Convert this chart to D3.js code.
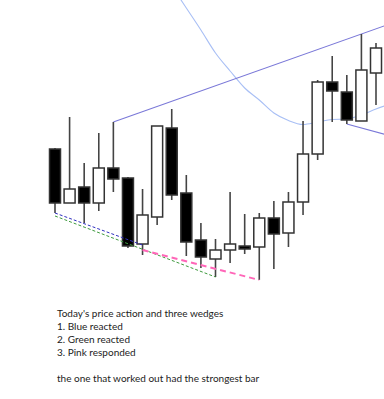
<!DOCTYPE html>
<html>
<head>
<meta charset="utf-8">
<script src="https://cdn.jsdelivr.net/npm/d3@7"></script>
<style>
  body { margin: 0; background: #fff; }
  #chart { width: 384px; height: 399px; }
</style>
</head>
<body>
<div id="chart"></div>
<script>
// candle data (index 0..22), price units
var opens  = [151,  97, 113,  97, 132, 122,  56,  83, 172, 107,  60,  41,  50,  54,  53,  82,  67,  98, 146, 218, 208, 179, 227];
var highs  = [152, 183, 137, 167, 178, 123, 111, 174, 191, 125,  77,  61, 108,  86,  87,  99, 108, 179, 220, 244, 225, 266, 257];
var lows   = [ 87,  97,  77,  89, 108,  52,  45,  75, 100,  44,  32,  23,  37,  46,  20,  31,  53,  85, 140, 178, 176, 179, 195];
var closes = [ 97, 111,  97, 132, 121,  54,  85, 174, 105,  58,  43,  50,  56,  51,  82,  66,  98, 146, 218, 209, 180, 230, 252];

// moving average, starting at candle 8 (runs off the top), last point is off-screen
var maStart = 8;
var maValues = [314, 292, 270, 247, 229, 212, 200, 187, 179.5, 175.5, 178, 180.5, 181, 185, 191, 196];

// wedge lines: [candle index, price] pairs
var upperLine  = [[4, 178], [21, 266]];
var lowerRight = [[20, 176], [23, 164]];
var blueWedge  = [[0, 87], [6, 55]];
var greenWedge = [[0, 84], [11, 23]];
var pinkWedge  = [[6, 50], [14, 20]];

var notes = [
  "Today's price action and three wedges",
  "1. Blue reacted",
  "2. Green reacted",
  "3. Pink responded",
  "",
  "the one that worked out had the strongest bar"
];

var width = 384, height = 399;

var svg = d3.select("#chart").append("svg")
    .attr("width", width)
    .attr("height", height);

var x = d3.scaleLinear().domain([0, 22]).range([55, 376]);
var y = d3.scaleLinear().domain([0, 300]).range([300, 0]);
var bodyW = 11;

var plot = svg.append("g");

// extend a two point line to a given x index
function extend(pts, toIdx) {
  var p0 = pts[0], p1 = pts[1];
  var slope = (p1[1] - p0[1]) / (p1[0] - p0[0]);
  return [p0, [toIdx, p0[1] + slope * (toIdx - p0[0])]];
}

var line = d3.line()
    .x(function(d) { return x(d[0]); })
    .y(function(d) { return y(d[1]); });

// moving average curve
var maPts = maValues.map(function(v, i) { return [maStart + i, v]; });
plot.append("path")
    .attr("d", d3.line()
      .x(function(d) { return x(d[0]); })
      .y(function(d) { return y(d[1]); })
      .curve(d3.curveMonotoneX)(maPts))
    .attr("fill", "none")
    .attr("stroke", "#a8bff5")
    .attr("stroke-width", 1.1);

// upper wedge line and right lower line
plot.append("path")
    .attr("d", line(extend(upperLine, 23)))
    .attr("fill", "none")
    .attr("stroke", "#7a78d8")
    .attr("stroke-width", 1.1);

plot.append("path")
    .attr("d", line(lowerRight))
    .attr("fill", "none")
    .attr("stroke", "#7a78d8")
    .attr("stroke-width", 1.1);

// candles
var data = opens.map(function(o, i) {
  return {i: i, o: o, h: highs[i], l: lows[i], c: closes[i]};
});

var candle = plot.selectAll(".candle")
    .data(data)
  .enter().append("g")
    .attr("class", "candle");

candle.append("line")
    .attr("x1", function(d) { return x(d.i); })
    .attr("x2", function(d) { return x(d.i); })
    .attr("y1", function(d) { return y(d.h); })
    .attr("y2", function(d) { return y(d.l); })
    .attr("stroke", "#444")
    .attr("stroke-width", 1.6);

candle.append("rect")
    .attr("x", function(d) { return x(d.i) - bodyW / 2; })
    .attr("width", bodyW)
    .attr("y", function(d) { return y(Math.max(d.o, d.c)); })
    .attr("height", function(d) { return Math.max(1, Math.abs(y(d.o) - y(d.c))); })
    .attr("fill", function(d) { return d.c >= d.o ? "#fff" : "#000"; })
    .attr("stroke", "#333")
    .attr("stroke-width", 1.5);

// dashed wedge lines
plot.append("path")
    .attr("d", line(greenWedge))
    .attr("fill", "none")
    .attr("stroke", "#3d9a3d")
    .attr("stroke-width", 1)
    .attr("stroke-dasharray", "3,2");

plot.append("path")
    .attr("d", line(blueWedge))
    .attr("fill", "none")
    .attr("stroke", "#2f2fc0")
    .attr("stroke-width", 1)
    .attr("stroke-dasharray", "3,2");

plot.append("path")
    .attr("d", line(pinkWedge))
    .attr("fill", "none")
    .attr("stroke", "#ff66b8")
    .attr("stroke-width", 2)
    .attr("stroke-dasharray", "6,4");

// notes
svg.append("g")
    .selectAll("text")
    .data(notes)
  .enter().append("text")
    .attr("x", 57)
    .attr("y", function(d, i) { return 317 + i * 13; })
    .attr("font-family", "Lato, 'Open Sans', sans-serif")
    .attr("font-size", "10px")
    .attr("fill", "#222")
    .text(function(d) { return d; });
</script>
</body>
</html>
